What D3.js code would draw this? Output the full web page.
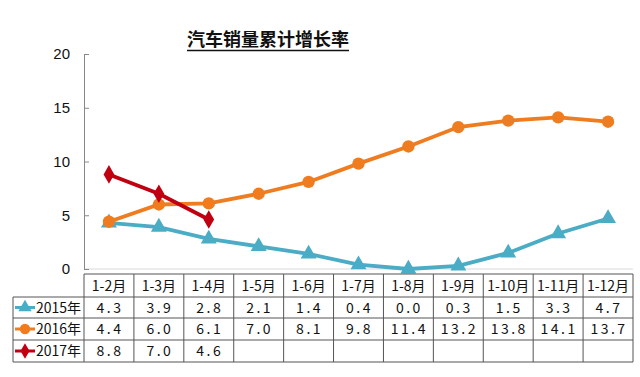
<!DOCTYPE html>
<html>
<head>
<meta charset="utf-8">
<script src="https://cdn.jsdelivr.net/npm/d3@7"></script>
<style>
body { margin: 0; background: #fff; }
svg { font-family: Arial, "Liberation Sans", "Noto Sans CJK SC", sans-serif; }
</style>
</head>
<body>
<svg id="chart" width="640" height="377"></svg>
<script>
const months = ["1-2月", "1-3月", "1-4月", "1-5月", "1-6月", "1-7月", "1-8月", "1-9月", "1-10月", "1-11月", "1-12月"];
const seriesNames = ["2015年", "2016年", "2017年"];
const values2015 = [4.3, 3.9, 2.8, 2.1, 1.4, 0.4, 0.0, 0.3, 1.5, 3.3, 4.7];
const values2016 = [4.4, 6.0, 6.1, 7.0, 8.1, 9.8, 11.4, 13.2, 13.8, 14.1, 13.7];
const values2017 = [8.8, 7.0, 4.6];
const yTicks = [0, 5, 10, 15, 20];

const series = [
    {name: seriesNames[0], values: values2015, color: "#4aacc5", symbol: d3.symbolTriangle, size: 110},
    {name: seriesNames[1], values: values2016, color: "#ef7c1f", symbol: d3.symbolCircle, size: 120},
    {name: seriesNames[2], values: values2017, color: "#c00010", symbol: d3.symbolDiamond, size: 100}
];

const svg = d3.select("#chart");
const plot = {left: 84, right: 633, top: 54, bottom: 269};
const table = {left: 13, headerTop: 274, rowTops: [297, 318, 340], bottom: 362};

const xScale = d3.scaleBand()
    .domain(months)
    .range([plot.left, plot.right]);

const yScale = d3.scaleLinear()
    .domain([0, 20])
    .range([plot.bottom, plot.top]);

// title
const title = svg.append("text")
    .attr("x", 268)
    .attr("y", 46)
    .attr("text-anchor", "middle")
    .attr("font-family", "'Noto Sans CJK SC', sans-serif")
    .attr("font-weight", "bold")
    .attr("font-size", 18)
    .attr("fill", "#111")
    .text("汽车销量累计增长率");
const tb = title.node().getBBox();
svg.append("line")
    .attr("x1", tb.x).attr("x2", tb.x + tb.width)
    .attr("y1", 50.5).attr("y2", 50.5)
    .attr("stroke", "#111").attr("stroke-width", 1.5);

// x baseline
svg.append("line")
    .attr("x1", plot.left).attr("x2", plot.right)
    .attr("y1", plot.bottom).attr("y2", plot.bottom)
    .attr("stroke", "#d9d9d9");

// y axis
const yAxisG = svg.append("g")
    .attr("transform", `translate(${plot.left},0)`)
    .call(d3.axisLeft(yScale).tickValues(yTicks).tickSize(-5).tickPadding(14));
yAxisG.selectAll("path, line").attr("stroke", "#888");
yAxisG.selectAll("text")
    .attr("font-size", 15)
    .attr("fill", "#111")
    .attr("font-family", "Arial, 'Liberation Sans', sans-serif");

// lines and markers
const line = d3.line()
    .x((d, i) => xScale(months[i]) + xScale.bandwidth() / 2)
    .y(d => yScale(d));

series.forEach(s => {
    svg.append("path")
        .datum(s.values)
        .attr("fill", "none")
        .attr("stroke", s.color)
        .attr("stroke-width", 3.8)
        .attr("d", line);
    svg.selectAll(null)
        .data(s.values)
        .join("path")
        .attr("transform", (d, i) => `translate(${xScale(months[i]) + xScale.bandwidth() / 2},${yScale(d)})`)
        .attr("d", d3.symbol().type(s.symbol).size(s.size))
        .attr("fill", s.color);
});

// data table
const tg = svg.append("g");
const border = "#555";
tg.append("line")
    .attr("x1", plot.left).attr("x2", plot.right)
    .attr("y1", table.headerTop).attr("y2", table.headerTop)
    .attr("stroke", border);
table.rowTops.concat([table.bottom]).forEach(y => {
    tg.append("line")
        .attr("x1", table.left).attr("x2", plot.right)
        .attr("y1", y).attr("y2", y)
        .attr("stroke", border);
});
tg.append("line")
    .attr("x1", table.left).attr("x2", table.left)
    .attr("y1", table.rowTops[0]).attr("y2", table.bottom)
    .attr("stroke", border);
months.forEach(m => {
    tg.append("line")
        .attr("x1", xScale(m)).attr("x2", xScale(m))
        .attr("y1", table.headerTop).attr("y2", table.bottom)
        .attr("stroke", border);
});
tg.append("line")
    .attr("x1", plot.right).attr("x2", plot.right)
    .attr("y1", table.headerTop).attr("y2", table.bottom)
    .attr("stroke", border);

// header
tg.selectAll(".hdr")
    .data(months)
    .join("text")
    .attr("class", "hdr")
    .attr("x", d => xScale(d) + xScale.bandwidth() / 2)
    .attr("y", (table.headerTop + table.rowTops[0]) / 2 + 5)
    .attr("text-anchor", "middle")
    .attr("font-size", 14)
    .attr("fill", "#111")
    .attr("font-family", "'Noto Sans CJK SC', sans-serif")
    .text(d => d);

const rowBottoms = [table.rowTops[1], table.rowTops[2], table.bottom];
series.forEach((s, r) => {
    const cy = (table.rowTops[r] + rowBottoms[r]) / 2;
    tg.append("line")
        .attr("x1", 15).attr("x2", 35)
        .attr("y1", cy).attr("y2", cy)
        .attr("stroke", s.color).attr("stroke-width", 3);
    tg.append("path")
        .attr("transform", `translate(25,${cy})`)
        .attr("d", d3.symbol().type(s.symbol).size(s.size * 0.7))
        .attr("fill", s.color);
    tg.append("text")
        .attr("x", 36)
        .attr("y", cy + 5)
        .attr("font-size", 14)
        .attr("fill", "#111")
        .attr("font-family", "'Noto Sans CJK SC', sans-serif")
        .text(s.name);
    tg.selectAll(null)
        .data(s.values)
        .join("text")
        .attr("x", (d, i) => xScale(months[i]) + xScale.bandwidth() / 2 + 1)
        .attr("y", cy + 5)
        .attr("text-anchor", "middle")
        .attr("font-size", 14)
        .attr("letter-spacing", 2.5)
        .attr("fill", "#111")
        .attr("font-family", "'Noto Sans CJK SC', sans-serif")
        .text(d => d.toFixed(1));
});
</script>
</body>
</html>
